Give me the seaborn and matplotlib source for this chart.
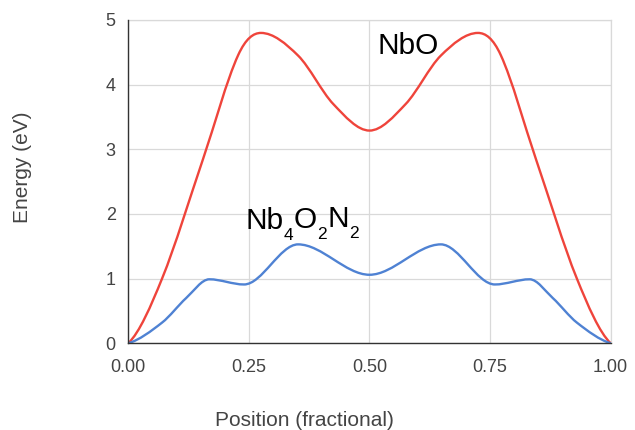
import numpy as np
import matplotlib
matplotlib.use("Agg")
import matplotlib.pyplot as plt
from matplotlib.path import Path
from matplotlib.patches import PathPatch
import seaborn as sns

# values
nbo_x = [0.00, 0.07, 0.155, 0.228, 0.275, 0.352, 0.425, 0.50,
         0.575, 0.648, 0.725, 0.772, 0.845, 0.93, 1.00]
nbo_y = [0.00, 1.00, 2.85, 4.46, 4.80, 4.45, 3.70, 3.29,
         3.70, 4.45, 4.80, 4.46, 2.85, 1.00, 0.00]

nbon_x = [0.00, 0.07, 0.12, 0.168, 0.24, 0.352, 0.50,
          0.648, 0.76, 0.832, 0.88, 0.93, 1.00]
nbon_y = [0.00, 0.32, 0.70, 0.99, 0.91, 1.53, 1.06,
          1.53, 0.91, 0.99, 0.70, 0.32, 0.00]

x_ticks = [0.0, 0.25, 0.5, 0.75, 1.0]
x_ticklabels = ["0.00", "0.25", "0.50", "0.75", "1.00"]
y_ticks = [0, 1, 2, 3, 4, 5]

sns.set_theme(style="whitegrid")
plt.rcParams["font.family"] = ["Liberation Sans", "DejaVu Sans"]


def smooth_path(xs, ys):
    # cubic bezier through the points, flat at the turning points (like the sheet's smooth line)
    xs = np.asarray(xs, float)
    ys = np.asarray(ys, float)
    sec = np.diff(ys) / np.diff(xs)
    m = np.zeros(len(xs))
    m[0] = sec[0] / 2
    m[-1] = sec[-1] / 2
    for i in range(1, len(xs) - 1):
        if sec[i - 1] * sec[i] <= 0:
            m[i] = 0
        else:
            m[i] = (ys[i + 1] - ys[i - 1]) / (xs[i + 1] - xs[i - 1])
    verts = [(xs[0], ys[0])]
    codes = [Path.MOVETO]
    for i in range(len(xs) - 1):
        dx = xs[i + 1] - xs[i]
        verts += [(xs[i] + dx / 3, ys[i] + m[i] * dx / 3),
                  (xs[i + 1] - dx / 3, ys[i + 1] - m[i + 1] * dx / 3),
                  (xs[i + 1], ys[i + 1])]
        codes += [Path.CURVE4] * 3
    return Path(verts, codes)


fig = plt.figure(figsize=(6.35, 4.3), dpi=100)
ax = fig.add_axes([0.2020, 0.2016, 0.7597, 0.7519])

ax.add_patch(PathPatch(smooth_path(nbo_x, nbo_y), fill=False, edgecolor="#ef443b", lw=1.7,
                       capstyle="round", joinstyle="round", zorder=3))
ax.add_patch(PathPatch(smooth_path(nbon_x, nbon_y), fill=False, edgecolor="#4f82d3", lw=1.7,
                       capstyle="round", joinstyle="round", zorder=3))

ax.set_xlim(0, 1)
ax.set_ylim(0, 5)
ax.set_xticks(x_ticks)
ax.set_xticklabels(x_ticklabels)
ax.set_yticks(y_ticks)
ax.grid(True, color="#d9d9d9", lw=0.9)
ax.set_facecolor("white")
ax.tick_params(axis="both", length=0, labelsize=13, labelcolor="#444444")
ax.tick_params(axis="x", pad=11)
ax.tick_params(axis="y", pad=9)

for side in ["top", "right"]:
    ax.spines[side].set_color("#d9d9d9")
    ax.spines[side].set_linewidth(0.9)
for side in ["left", "bottom"]:
    ax.spines[side].set_color("#333333")
    ax.spines[side].set_linewidth(1.0)
    ax.spines[side].set_zorder(4)

ax.set_xlabel("Position (fractional)", fontsize=15, color="#444444")
ax.set_ylabel("Energy (eV)", fontsize=15, color="#444444")
ax.xaxis.set_label_coords(0.366, -0.208)
ax.yaxis.set_label_coords(-0.2, 0.545)

ax.text(0.516, 4.47, "NbO", fontsize=21.5, color="black", va="baseline", ha="left")

# Nb4O2N2 with real subscripts, built piece by piece
main_size, sub_size = 21.5, 12.5
prev = ax.text(0.242, 1.77, "Nb", fontsize=main_size, color="black", va="baseline", ha="left")
for piece, is_sub in [("4", True), ("O", False), ("2", True), ("N", False), ("2", True)]:
    if is_sub:
        dy = -3.4
        size = sub_size
    else:
        dy = 10.5
        size = main_size
    prev = ax.annotate(piece, xy=(1, 0), xycoords=prev, xytext=(0.3, dy),
                       textcoords="offset points", fontsize=size, color="black",
                       va="baseline", ha="left")

fig.savefig("out.png", dpi=100, facecolor="white")
